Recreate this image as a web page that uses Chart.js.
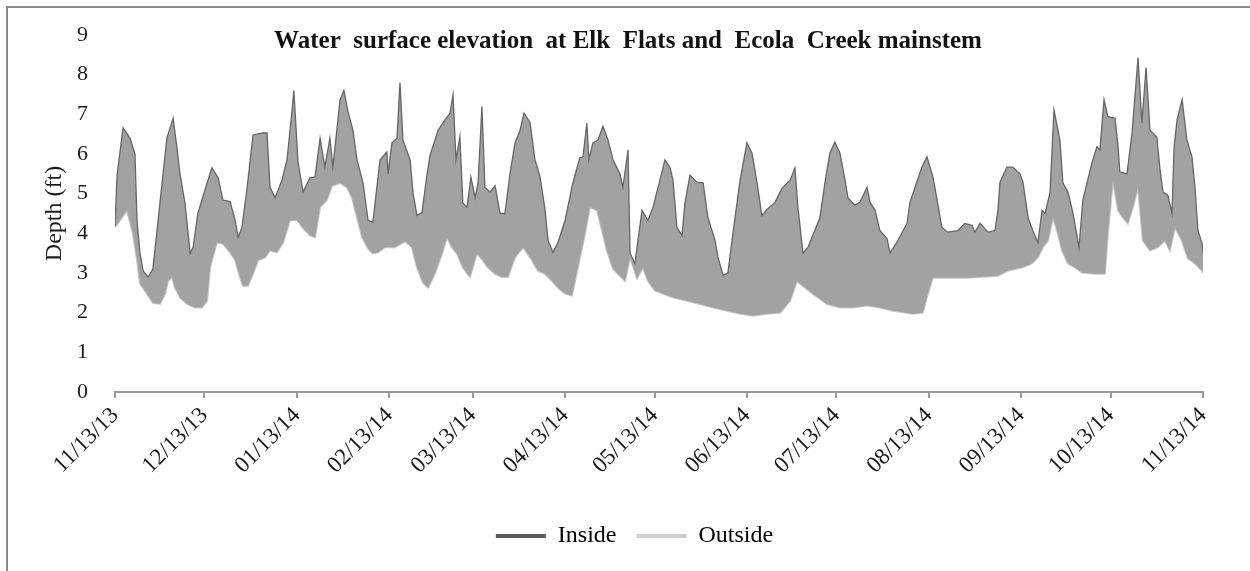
<!DOCTYPE html>
<html>
<head>
<meta charset="utf-8">
<script src="https://cdn.jsdelivr.net/npm/chart.js@4.4.1/dist/chart.umd.min.js"></script>
<style>
  html, body { margin: 0; padding: 0; background: #fff; }
  #wrap { position: relative; width: 1250px; height: 571px; overflow: hidden; }
  #frame { position: absolute; left: 6px; top: 6px; width: 1300px; height: 700px;
           border-left: 2px solid #8a8a8a; border-top: 2px solid #8a8a8a; }
  canvas { position: absolute; left: 0; top: 0; }
</style>
</head>
<body>
<div id="wrap">
  <div id="frame"></div>
  <canvas id="c" width="1250" height="571"></canvas>
</div>
<script>
// Day offsets from 11/13/13 and their tick labels
const tickDays = [0, 30, 61, 92, 120, 151, 181, 212, 242, 273, 304, 334, 365];
const tickLabels = ['11/13/13','12/13/13','01/13/14','02/13/14','03/13/14','04/13/14',
  '05/13/14','06/13/14','07/13/14','08/13/14','09/13/14','10/13/14','11/13/14'];

// Inside: upper envelope of water surface depth (ft)
const insideDays = [0,0.7,2.7,5.0,6.7,7.4,8.4,9.4,11.1,12.7,14.1,15.1,17.4,19.5,20.8,21.8,23.5,25.2,26.2,27.8,
  30.2,32.5,34.6,36.2,38.6,40.3,41.3,42.6,44.3,46.3,49.6,51.0,52.0,53.7,56.0,57.7,59.4,60.0,61.4,63.1,
  65.4,67.1,68.8,70.4,72.1,73.1,75.5,76.8,78.2,79.8,81.2,83.2,84.9,86.5,88.9,91.2,91.6,92.9,94.6,95.6,
  96.6,99.0,100.0,101.3,103.0,104.7,105.7,108.4,110.7,112.4,113.4,114.4,115.7,116.7,118.1,119.4,120.8,121.8,123.1,124.1,
  125.8,127.5,129.2,130.8,132.5,134.2,135.9,137.2,139.2,140.9,142.6,144.2,145.3,146.9,148.6,151.0,153.6,155.9,157.0,158.3,
  159.0,160.3,162.0,163.7,165.4,167.1,169.4,170.4,172.1,172.8,174.4,176.8,178.8,180.5,182.8,184.5,186.2,187.2,188.5,190.2,
  191.2,192.9,195.2,197.3,198.9,201.3,202.3,204.0,205.6,207.3,209.7,212.0,213.7,215.4,217.0,219.1,221.4,223.8,226.5,228.1,
  229.1,230.8,232.5,234.1,236.5,238.2,239.8,241.5,243.2,244.9,245.9,248.2,249.9,252.3,253.3,255.0,256.6,259.0,260.0,262.3,
  265.7,266.7,268.4,270.7,272.4,274.4,276.1,277.4,279.4,282.8,285.1,287.5,288.5,290.2,292.9,295.2,296.2,296.9,299.2,301.2,
  303.6,304.6,306.3,307.9,309.6,311.0,312.0,313.7,315.0,317.0,318.0,319.7,321.4,323.4,324.7,327.7,329.4,330.4,331.8,333.1,
  335.5,336.5,337.1,339.5,341.2,343.2,344.5,345.9,347.2,349.5,350.6,351.6,353.2,354.6,355.3,356.3,358.0,359.6,361.3,362.3,
  363.3,364.7,365];
const insideDepth = [4.2,5.47,6.66,6.4,6.0,4.3,3.5,3.06,2.9,3.1,4.07,4.78,6.4,6.9,6.15,5.5,4.75,3.5,3.65,4.5,
  5.1,5.65,5.4,4.84,4.8,4.33,3.9,4.15,5.14,6.48,6.53,6.53,5.16,4.9,5.34,5.85,7.1,7.6,5.8,5.04,
  5.4,5.42,6.4,5.67,6.4,5.67,7.37,7.6,7.06,6.6,5.85,5.27,4.33,4.28,5.85,6.05,5.5,6.28,6.4,7.8,
  6.35,5.85,5.0,4.45,4.53,5.5,5.97,6.6,6.86,7.03,7.5,5.85,6.43,4.76,4.66,5.42,4.9,5.27,7.2,5.16,
  5.04,5.2,4.5,4.5,5.5,6.28,6.6,7.03,6.8,5.85,5.42,4.63,3.82,3.52,3.77,4.33,5.27,5.9,5.93,6.78,
  5.85,6.28,6.35,6.7,6.35,5.85,5.5,5.16,6.1,3.5,3.24,4.58,4.33,4.66,5.34,5.85,5.65,5.34,4.15,3.95,
  4.76,5.47,5.29,5.27,4.4,3.82,3.39,2.94,3.0,4.0,5.34,6.28,6.02,5.27,4.45,4.63,4.78,5.14,5.34,5.65,
  4.66,3.5,3.65,3.95,4.4,5.29,6.02,6.3,6.02,5.34,4.89,4.71,4.78,5.16,4.78,4.58,4.07,3.87,3.5,3.77,
  4.25,4.78,5.16,5.67,5.93,5.42,4.71,4.15,4.03,4.07,4.25,4.2,4.03,4.25,4.03,4.07,4.58,5.29,5.67,5.67,
  5.5,5.29,4.4,4.07,3.77,4.58,4.5,5.04,7.11,6.35,5.27,5.04,4.5,3.65,4.84,5.77,6.18,6.1,7.37,6.94,
  6.9,6.18,5.55,5.5,6.53,8.43,6.78,8.18,6.6,6.43,5.6,5.04,4.96,4.5,6.18,6.86,7.37,6.35,5.93,5.16,
  4.07,3.74,3.5];

// Outside: lower envelope of water surface depth (ft)
const outsideDays = [0,4.0,6.0,7.4,8.4,10.7,12.7,15.1,16.8,17.8,19.1,20.1,21.8,24.2,26.8,29.2,30.9,31.9,34.2,36.2,
  38.6,40.3,41.9,42.9,44.6,46.3,48.0,50.3,52.0,54.3,56.4,58.7,61.1,63.1,65.4,67.1,68.8,71.1,72.8,75.5,
  77.8,79.5,81.2,82.9,84.9,86.5,88.2,90.6,93.9,97.3,99.6,101.3,103.3,105.0,107.3,109.7,111.4,113.0,114.7,116.7,
  119.1,121.4,123.4,125.1,127.5,129.8,131.8,134.2,136.9,139.9,141.9,144.2,146.6,148.6,151.0,153.3,155.3,157.7,159.3,161.7,
  163.4,165.0,167.1,168.7,171.1,172.8,175.1,177.1,178.8,181.1,183.8,187.2,191.9,196.2,200.6,205.3,209.7,214.0,218.7,223.1,
  226.5,228.8,229.8,234.1,238.8,243.2,247.6,252.3,256.6,261.0,267.7,271.0,272.7,274.4,286.1,296.2,299.6,304.3,307.6,309.6,
  311.3,313.0,314.7,316.3,317.7,319.7,322.0,324.4,328.7,332.1,333.1,334.8,336.5,338.1,339.8,341.5,343.2,344.8,347.2,349.9,
  352.2,353.9,355.6,357.9,359.9,362.3,364.7,365];
const outsideDepth = [4.15,4.58,4.0,3.32,2.73,2.48,2.25,2.22,2.48,2.8,2.9,2.63,2.38,2.22,2.13,2.13,2.3,3.14,3.77,3.74,
  3.52,3.32,2.9,2.68,2.68,2.98,3.32,3.39,3.57,3.52,3.77,4.33,4.33,4.13,3.95,3.9,4.66,4.84,5.2,5.27,
  5.16,4.9,4.4,3.9,3.62,3.49,3.52,3.65,3.65,3.8,3.65,3.14,2.76,2.63,2.98,3.49,3.9,3.65,3.49,3.14,
  2.9,3.49,3.32,3.14,2.98,2.9,2.9,3.39,3.65,3.32,3.06,2.98,2.8,2.63,2.48,2.43,3.14,4.0,4.66,4.58,
  4.07,3.57,3.1,2.98,2.8,3.4,2.86,3.14,2.8,2.56,2.48,2.38,2.3,2.22,2.13,2.05,1.97,1.92,1.97,2.0,
  2.3,2.8,2.73,2.48,2.22,2.13,2.13,2.18,2.13,2.05,1.97,2.0,2.48,2.88,2.88,2.93,3.06,3.14,3.24,3.39,
  3.65,3.82,4.4,4.0,3.57,3.24,3.14,3.01,2.98,2.98,4.0,5.34,4.58,4.4,4.25,4.66,5.16,3.82,3.57,3.65,
  3.82,3.57,4.15,3.82,3.37,3.24,3.06,3.0];

const yTicks = [0,1,2,3,4,5,6,7,8,9];

const insidePts = insideDays.map((d, i) => ({ x: d, y: insideDepth[i] }));
const outsidePts = outsideDays.map((d, i) => ({ x: d, y: outsideDepth[i] }));

const serif = '"Liberation Serif", "DejaVu Serif", serif';

const titlePlugin = {
  id: 'overlayTitle',
  afterLayout(chart) {
    // centre the legend under the same point as the reference (shift right)
    if (chart.legend) { chart.legend.left += 33; chart.legend.right += 33; }
  },
  afterDraw(chart) {
    const ctx = chart.ctx;
    ctx.save();
    ctx.font = 'bold 25px ' + serif;
    ctx.fillStyle = '#111';
    ctx.textAlign = 'center';
    ctx.textBaseline = 'middle';
    ctx.fillText('Water  surface elevation  at Elk  Flats and  Ecola  Creek mainstem', 628, 42);
    ctx.restore();
  }
};

new Chart(document.getElementById('c'), {
  type: 'line',
  data: {
    datasets: [
      { label: 'Inside', data: insidePts, borderColor: '#666666', borderWidth: 1.3,
        backgroundColor: '#a2a2a2', fill: '+1', pointRadius: 0, tension: 0 },
      { label: 'Outside', data: outsidePts, borderColor: '#c8c8c8', borderWidth: 2,
        backgroundColor: '#a2a2a2', fill: false, pointRadius: 0, tension: 0 }
    ]
  },
  options: {
    responsive: false,
    animation: false,
    layout: { padding: { left: 0, right: 47, top: 35, bottom: 13 } },
    scales: {
      x: {
        type: 'linear', min: 0, max: 365,
        afterBuildTicks: (s) => { s.ticks = tickDays.map(v => ({ value: v })); },
        afterFit: (s) => { s.height = 112; },
        ticks: {
          autoSkip: false, maxRotation: 45, minRotation: 45, padding: 4,
          color: '#1a1a1a', font: { family: serif, size: 23 },
          callback: (v) => { const i = tickDays.indexOf(v); return i >= 0 ? tickLabels[i] : ''; }
        },
        grid: { drawOnChartArea: false, drawTicks: true, tickLength: 6, color: '#9a9a9a', lineWidth: 2 },
        border: { display: true, color: '#9a9a9a', width: 2 }
      },
      y: {
        min: 0, max: 9,
        afterBuildTicks: (s) => { s.ticks = yTicks.map(v => ({ value: v })); },
        afterFit: (s) => { s.width = 115; s.paddingTop = 0; s.paddingBottom = 0; },
        ticks: { color: '#1a1a1a', font: { family: serif, size: 22 }, padding: 27 },
        grid: { display: false, drawTicks: false },
        border: { display: false },
        title: { display: true, text: 'Depth (ft)', color: '#1a1a1a',
                 font: { family: serif, size: 24 }, padding: { top: 40, bottom: 0 } }
      }
    },
    plugins: {
      legend: {
        position: 'bottom',
        labels: {
          boxWidth: 50, boxHeight: 4, padding: 20, color: '#1a1a1a',
          font: { family: serif, size: 24 },
          generateLabels: () => [
            { text: 'Inside', fillStyle: '#595959', strokeStyle: '#595959', lineWidth: 0, datasetIndex: 0 },
            { text: 'Outside', fillStyle: '#cfcfcf', strokeStyle: '#cfcfcf', lineWidth: 0, datasetIndex: 1 }
          ]
        }
      },
      title: { display: false },
      tooltip: { enabled: false }
    }
  },
  plugins: [titlePlugin]
});
</script>
</body>
</html>
